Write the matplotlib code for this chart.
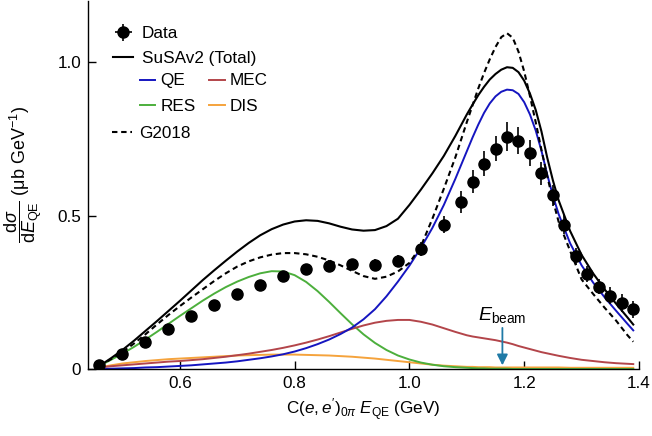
import matplotlib
matplotlib.use("Agg")
import matplotlib.pyplot as plt
import numpy as np

plt.rcParams['font.family'] = ['Liberation Sans', 'DejaVu Sans']
plt.rcParams['mathtext.fontset'] = 'custom'
plt.rcParams['mathtext.rm'] = 'Liberation Sans'
plt.rcParams['mathtext.it'] = 'Liberation Sans:italic'
plt.rcParams['mathtext.bf'] = 'Liberation Sans:bold'

# measured data points
data_x = [0.46, 0.50, 0.54, 0.58, 0.62, 0.66, 0.70, 0.74, 0.78, 0.82, 0.86, 0.90, 0.94, 0.98,
          1.02, 1.06, 1.09, 1.11, 1.13, 1.15, 1.17, 1.19, 1.21, 1.23, 1.25, 1.27, 1.29, 1.31,
          1.33, 1.35, 1.37, 1.39]
data_y = [0.012, 0.048, 0.087, 0.132, 0.174, 0.209, 0.244, 0.274, 0.303, 0.326, 0.337, 0.341,
          0.340, 0.352, 0.392, 0.471, 0.544, 0.611, 0.670, 0.719, 0.758, 0.745, 0.705, 0.638,
          0.566, 0.471, 0.367, 0.309, 0.269, 0.239, 0.215, 0.195]
data_err = [0.004, 0.006, 0.008, 0.010, 0.011, 0.012, 0.013, 0.014, 0.015, 0.016, 0.018, 0.019,
            0.019, 0.020, 0.022, 0.028, 0.035, 0.038, 0.040, 0.042, 0.047, 0.045, 0.042, 0.038,
            0.034, 0.030, 0.027, 0.026, 0.026, 0.027, 0.028, 0.028]

e_model = [0.46, 0.48, 0.50, 0.52, 0.54, 0.56, 0.58, 0.60, 0.62, 0.64, 0.66, 0.68, 0.70, 0.72,
           0.74, 0.76, 0.78, 0.80, 0.82, 0.84, 0.86, 0.88, 0.90, 0.92, 0.94, 0.96, 0.98, 1.00,
           1.02, 1.04, 1.06, 1.08, 1.10, 1.11, 1.12, 1.13, 1.14, 1.15, 1.16, 1.17, 1.18, 1.19,
           1.20, 1.21, 1.22, 1.23, 1.24, 1.25, 1.26, 1.28, 1.30, 1.32, 1.34, 1.36, 1.38, 1.39]
total = [0.010, 0.035, 0.062, 0.092, 0.124, 0.156, 0.189, 0.222, 0.256, 0.290, 0.322, 0.353,
         0.383, 0.411, 0.436, 0.456, 0.471, 0.481, 0.485, 0.483, 0.475, 0.464, 0.455, 0.451,
         0.453, 0.466, 0.490, 0.535, 0.585, 0.638, 0.695, 0.760, 0.830, 0.862, 0.893, 0.920,
         0.944, 0.962, 0.976, 0.984, 0.982, 0.968, 0.940, 0.898, 0.845, 0.775, 0.690, 0.615,
         0.550, 0.450, 0.372, 0.312, 0.260, 0.213, 0.168, 0.145]
qe = [0.000, 0.001, 0.002, 0.003, 0.005, 0.006, 0.008, 0.010, 0.012, 0.015, 0.018, 0.021,
      0.025, 0.030, 0.035, 0.041, 0.048, 0.057, 0.068, 0.081, 0.096, 0.114, 0.135, 0.162,
      0.195, 0.237, 0.285, 0.337, 0.395, 0.460, 0.535, 0.620, 0.710, 0.755, 0.797, 0.835,
      0.866, 0.889, 0.904, 0.911, 0.909, 0.897, 0.870, 0.830, 0.778, 0.712, 0.635, 0.565,
      0.505, 0.410, 0.338, 0.282, 0.234, 0.190, 0.147, 0.126]
mec = [0.005, 0.009, 0.012, 0.015, 0.018, 0.021, 0.024, 0.026, 0.029, 0.032, 0.036, 0.040,
       0.045, 0.050, 0.056, 0.062, 0.069, 0.077, 0.086, 0.096, 0.107, 0.119, 0.131, 0.142,
       0.151, 0.157, 0.160, 0.160, 0.154, 0.145, 0.133, 0.121, 0.110, 0.106, 0.103, 0.100,
       0.097, 0.094, 0.090, 0.086, 0.081, 0.075, 0.070, 0.065, 0.060, 0.055, 0.051, 0.047,
       0.043, 0.036, 0.030, 0.026, 0.022, 0.019, 0.017, 0.016]
res = [0.010, 0.030, 0.050, 0.072, 0.096, 0.121, 0.147, 0.173, 0.198, 0.223, 0.246, 0.267,
       0.285, 0.300, 0.312, 0.319, 0.318, 0.306, 0.284, 0.254, 0.219, 0.182, 0.146, 0.113,
       0.085, 0.062, 0.044, 0.031, 0.021, 0.014, 0.009, 0.006, 0.004, 0.003, 0.002, 0.002,
       0.001, 0.001, 0.001, 0.001, 0.000, 0.000, 0.000, 0.000, 0.000, 0.000, 0.000, 0.000,
       0.000, 0.000, 0.000, 0.000, 0.000, 0.000, 0.000, 0.000]
dis = [0.005, 0.012, 0.018, 0.022, 0.026, 0.029, 0.032, 0.034, 0.036, 0.038, 0.040, 0.042,
       0.044, 0.045, 0.046, 0.047, 0.047, 0.047, 0.046, 0.045, 0.044, 0.042, 0.040, 0.037,
       0.034, 0.030, 0.026, 0.022, 0.018, 0.014, 0.011, 0.009, 0.007, 0.007, 0.006, 0.006,
       0.006, 0.005, 0.005, 0.005, 0.005, 0.005, 0.005, 0.005, 0.005, 0.005, 0.005, 0.005,
       0.005, 0.004, 0.004, 0.004, 0.004, 0.004, 0.004, 0.004]
g2018 = [0.010, 0.032, 0.055, 0.083, 0.113, 0.145, 0.176, 0.205, 0.233, 0.260, 0.287, 0.312,
         0.334, 0.351, 0.364, 0.373, 0.378, 0.378, 0.374, 0.366, 0.354, 0.338, 0.320, 0.303,
         0.294, 0.301, 0.318, 0.346, 0.400, 0.490, 0.588, 0.690, 0.805, 0.860, 0.915, 0.965,
         1.010, 1.050, 1.082, 1.095, 1.080, 1.035, 0.970, 0.890, 0.805, 0.715, 0.630, 0.550,
         0.480, 0.385, 0.292, 0.245, 0.200, 0.158, 0.110, 0.089]

e_beam = 1.162

fs = 12.3
fig = plt.figure(figsize=(6.52, 4.36), dpi=100)
ax = fig.add_axes([88 / 652, 67 / 436, 551 / 652, 368 / 436])

lw = 1.4
l_dis, = ax.plot(e_model, dis, color='#f5a33c', lw=lw)
l_res, = ax.plot(e_model, res, color='#4caf3c', lw=lw)
l_mec, = ax.plot(e_model, mec, color='#b3454a', lw=lw)
l_qe, = ax.plot(e_model, qe, color='#1515c0', lw=lw)
l_g, = ax.plot(e_model, g2018, color='black', lw=1.5, ls=(0, (2.6, 1.8)))
l_tot, = ax.plot(e_model, total, color='black', lw=1.5)
ax.errorbar(data_x, data_y, yerr=data_err, fmt='o', color='black', ms=8, elinewidth=1.2,
            capsize=0, zorder=5)

ax.annotate('', xy=(e_beam, 0.012), xytext=(e_beam, 0.134),
            arrowprops=dict(arrowstyle='-|>', color='#1f7aa6', lw=1.3, mutation_scale=16,
                            shrinkA=0, shrinkB=0))
ax.text(e_beam, 0.142, r'$E_{\mathrm{beam}}$', ha='center', va='bottom', fontsize=14)

ax.set_xlim(0.44, 1.4)
ax.set_ylim(0, 1.2)
ax.set_xticks([0.6, 0.8, 1.0, 1.2, 1.4])
ax.set_xticklabels(['0.6', '0.8', '1.0', '1.2', '1.4'])
ax.set_yticks([0, 0.5, 1.0])
ax.set_yticklabels(['0', '0.5', '1.0'])
ax.tick_params(direction='in', length=6, width=1, labelsize=fs, pad=5)
for s in ['top', 'right']:
    ax.spines[s].set_visible(False)
for s in ['left', 'bottom']:
    ax.spines[s].set_linewidth(1)

ax.set_xlabel(r"C$(e,e^{\prime})_{0\pi}$ $E_{\mathrm{QE}}$ (GeV)", fontsize=fs)
ax.set_ylabel(r"$\dfrac{\mathrm{d}\sigma}{\mathrm{d}E_{\mathrm{QE}}}$ (μb GeV$^{-1}$)", fontsize=13)
ax.yaxis.set_label_coords(-0.079, 0.53)

# legend in three blocks
proxy = ax.errorbar([np.nan], [np.nan], xerr=[1], yerr=[1], fmt='o', color='black', ms=8,
                    elinewidth=1.2, capsize=0)
leg1 = ax.legend([proxy, l_tot], ['Data', 'SuSAv2 (Total)'], loc='upper left',
                 bbox_to_anchor=(0.045, 0.932), frameon=False, fontsize=fs, borderpad=0,
                 borderaxespad=0, handlelength=1.2, handletextpad=0.5, labelspacing=0.6)
ax.add_artist(leg1)
leg2 = ax.legend([l_qe, l_res, l_mec, l_dis], ['QE', 'RES', 'MEC', 'DIS'], ncol=2,
                 loc='upper left', bbox_to_anchor=(0.0945, 0.803), frameon=False, fontsize=fs,
                 borderpad=0, borderaxespad=0, handlelength=0.9, handletextpad=0.3,
                 labelspacing=0.6, columnspacing=0.8)
ax.add_artist(leg2)
ax.legend([l_g], ['G2018'], loc='upper left', bbox_to_anchor=(0.043, 0.66), frameon=False,
          fontsize=fs, borderpad=0, borderaxespad=0, handlelength=1.2, handletextpad=0.4)

fig.savefig('out.png', dpi=100)
